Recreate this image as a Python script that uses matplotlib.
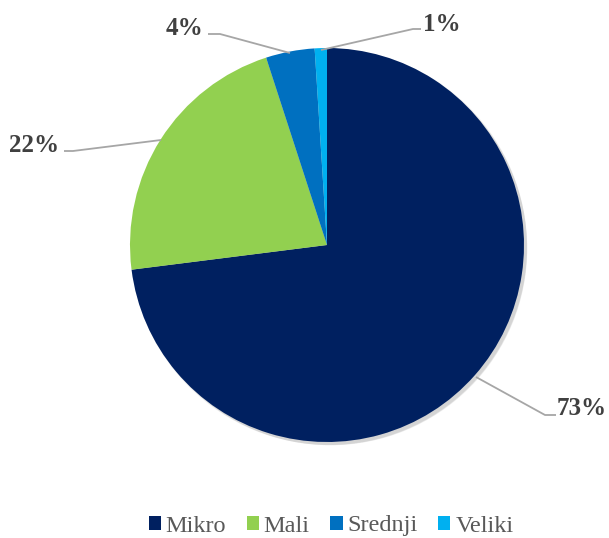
import matplotlib
matplotlib.use("Agg")
import matplotlib.pyplot as plt
from matplotlib.patches import Circle, Rectangle
from matplotlib import font_manager as fm

categories = ["Mikro", "Mali", "Srednji", "Veliki"]
values = [73, 22, 4, 1]
labels = ["73%", "22%", "4%", "1%"]
colors = ["#002060", "#92D050", "#0070C0", "#00B0F0"]


def _w(f):
    w = f.weight
    if isinstance(w, int):
        return w
    return 700 if "bold" in str(w).lower() else 400


def find_font(families, bold):
    for fam in families:
        cands = [f for f in fm.fontManager.ttflist if f.name == fam and f.style == "normal"]
        sel = [f for f in cands if (_w(f) >= 600) == bold]
        if sel:
            return sel[0].fname
    return None


fams = ["Liberation Serif", "TeX Gyre Termes", "FreeSerif", "DejaVu Serif"]
reg_path = find_font(fams, False)
bold_path = find_font(fams, True)

W, H = 609, 538
fig = plt.figure(figsize=(W / 100, H / 100), dpi=100)
ax = fig.add_axes([0, 0, 1, 1])

cx, cy, r = 327, H - 245, 197

# soft shadow
for i in range(4):
    ax.add_patch(Circle((cx + 2 + i * 0.6, cy - 2 - i * 0.6), r + 1 - i * 0.5,
                        facecolor="black", alpha=0.045, edgecolor="none", zorder=0))

wedges, _ = ax.pie(values, colors=colors, startangle=90, counterclock=False,
                   center=(cx, cy), radius=r, frame=True,
                   wedgeprops=dict(edgecolor="none", linewidth=0))
ax.set_xlim(0, W)
ax.set_ylim(0, H)
ax.set_aspect("equal")
ax.axis("off")

line_c = "#A6A6A6"
txt_c = "#404040"
fp_bold = fm.FontProperties(fname=bold_path, size=18)
fp_reg = fm.FontProperties(fname=reg_path, size=17.5)

leaders = [
    ([(476, 377), (545, 415), (556, 415)], (557, 415), "left"),
    ([(161, 140), (73, 151), (64, 151)], (59, 152), "right"),
    ([(290, 53), (220, 34), (208, 34)], (203, 35), "right"),
    ([(321, 50), (413, 29), (421, 29)], (423, 31), "left"),
]
for (pts, (tx, ty), ha), lab in zip(leaders, labels):
    xs = [p[0] for p in pts]
    ys = [H - p[1] for p in pts]
    ax.plot(xs, ys, color=line_c, lw=1.3, zorder=1, solid_capstyle="butt")
    ax.text(tx, H - ty, lab, ha=ha, va="baseline", fontproperties=fp_bold, color=txt_c)

handles = [Rectangle((0, 0), 1, 1, facecolor=c, edgecolor="none") for c in colors]
leg = fig.legend(handles, categories, loc="center", ncol=4,
                 bbox_to_anchor=(331 / W, 1 - 526 / H), frameon=False,
                 prop=fp_reg, handlelength=0.5,
                 handleheight=0.5, handletextpad=0.2, columnspacing=0.85,
                 borderpad=0, borderaxespad=0)
for t in leg.get_texts():
    t.set_color("#595959")

fig.savefig("out.png", dpi=100)
